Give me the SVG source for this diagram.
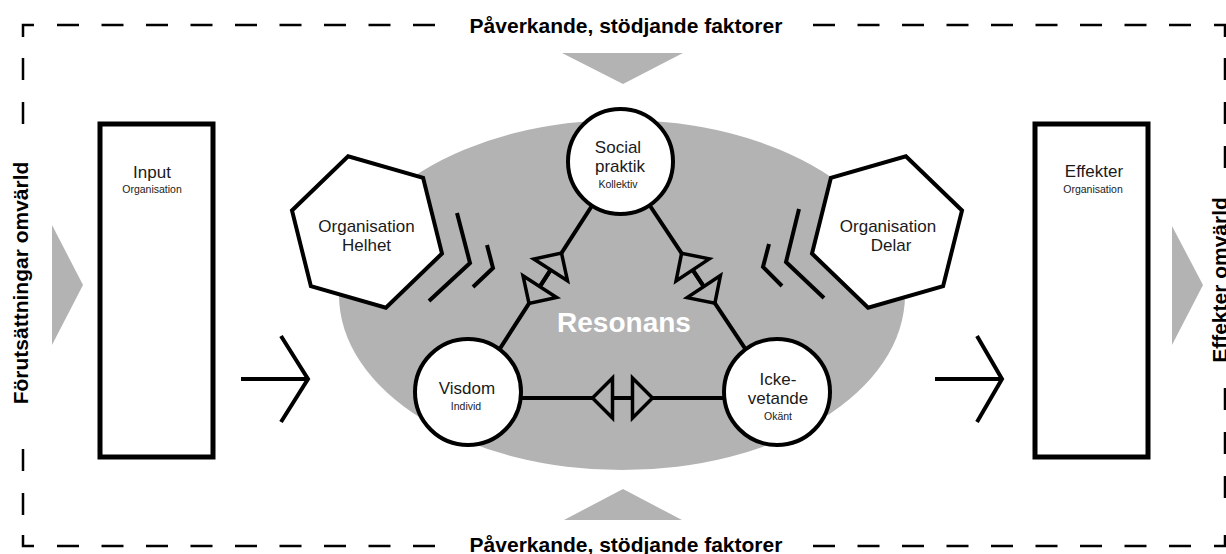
<svg xmlns="http://www.w3.org/2000/svg" width="1226" height="554" viewBox="0 0 1226 554">
<style>
.frame{fill:none;stroke:#000;stroke-width:2.5}
.title{font-family:"Liberation Sans",Arial,sans-serif;font-weight:bold;font-size:21px;fill:#000;text-anchor:middle}
.lbl{font-family:"Liberation Sans",Arial,sans-serif;font-size:17px;fill:#1a1a1a;text-anchor:middle}
.sub{font-family:"Liberation Sans",Arial,sans-serif;font-size:10.5px;fill:#1a1a1a;text-anchor:middle}
.box{fill:#fff;stroke:#000;stroke-width:5}
.hex{fill:#fff;stroke:#000;stroke-width:4;stroke-linejoin:miter}
.circ{fill:#fff;stroke:#000;stroke-width:4}
.gray{fill:#b3b3b3}
.ln{fill:none;stroke:#000;stroke-width:4;stroke-linecap:butt;stroke-linejoin:miter}
.tri{fill:#b3b3b3;stroke:#000;stroke-width:3.5;stroke-linejoin:miter}
</style>
<defs>
<g id="dbl">
<path class="tri" d="M-10,-20 L-10,20 L-30,0 Z"/>
<path class="tri" d="M10,-20 L10,20 L30,0 Z"/>
<path class="ln" d="M-10,0 H10"/>
</g>
</defs>
<g id="frame">
<path class="frame" d="M23,37 V25 H34 M57,25 h22 M101.5,25 h22 M146,25 h22 M190.5,25 h22 M235,25 h22 M279.5,25 h22 M324,25 h22 M368.5,25 h22 M413,25 h22 M813,25 h22 M857.5,25 h22 M902,25 h22 M946.5,25 h22 M991,25 h22 M1035.5,25 h22 M1080,25 h22 M1124.5,25 h22 M1169,25 h22 M1214,25 H1225 V37 M1225,58 v22 M1225,102 v22 M1225,146 v22 M1225,388 v22 M1225,432 v22 M1225,476 v22 M1225,535 V546 H1214 M23,58 v22 M23,102 v22 M23,449 v22 M23,493 v22 M23,535 V546 H34 M57,546 h22 M101.5,546 h22 M146,546 h22 M190.5,546 h22 M235,546 h22 M279.5,546 h22 M324,546 h22 M368.5,546 h22 M413,546 h22 M813,546 h22 M857.5,546 h22 M902,546 h22 M946.5,546 h22 M991,546 h22 M1035.5,546 h22 M1080,546 h22 M1124.5,546 h22 M1169,546 h22"/>
<text class="title" x="626" y="33">Påverkande, stödjande faktorer</text>
<text class="title" x="626" y="552">Påverkande, stödjande faktorer</text>
<text class="title" transform="translate(28,283) rotate(-90)">Förutsättningar omvärld</text>
<text class="title" transform="translate(1227,280) rotate(-90)">Effekter omvärld</text>
<path class="gray" d="M562,53 H683 L623,84 Z"/>
<path class="gray" d="M564,520 H682 L623,489 Z"/>
<path class="gray" d="M52,225 V345 L83,285 Z"/>
<path class="gray" d="M1172,226 V345 L1203,285 Z"/>
</g>
<g id="resonans">
<ellipse class="gray" cx="622" cy="295" rx="283" ry="175"/>
<text x="624" y="332" font-family="Liberation Sans, Arial, sans-serif" font-weight="bold" font-size="28" fill="#fff" text-anchor="middle">Resonans</text>
</g>
<g id="input">
<rect class="box" x="100" y="124" width="113" height="333"/>
<text class="lbl" x="152" y="178">Input</text>
<text class="sub" x="152" y="193">Organisation</text>
</g>
<g id="effekter">
<rect class="box" x="1035" y="124" width="113" height="333"/>
<text class="lbl" x="1094" y="177">Effekter</text>
<text class="sub" x="1093" y="193">Organisation</text>
</g>
<g id="org-helhet">
<path class="hex" d="M442,253.5 L385.9,307.7 L310.9,286.2 L292,210.5 L348.1,156.3 L423.1,177.8 Z"/>
<text class="lbl" x="366.5" y="232">Organisation</text>
<text class="lbl" x="366.5" y="251">Helhet</text>
</g>
<g id="org-delar">
<path class="hex" d="M962,210.5 L943.1,286.2 L868.1,307.7 L812,253.5 L830.9,177.8 L905.9,156.3 Z"/>
<text class="lbl" x="888" y="232">Organisation</text>
<text class="lbl" x="891" y="251">Delar</text>
</g>
<g id="connectors">
<path class="ln" d="M241,379 H309 M281,336 L308,379 L281,422"/>
<path class="ln" d="M935,379 H1003 M977,336 L1002,379 L977,422"/>
<path class="ln" d="M457,213 L470,263 L429,301 M487,245 L493,268 L473,287"/>
<path class="ln" d="M799,209 L786,262 L824,298 M769,244 L763,267 L782,286"/>
<path class="ln" d="M620.5,161.5 L470,395 M620.5,161.5 L776,395 M468,398 H777"/>
<use href="#dbl" transform="translate(545.25,278.25) rotate(122.8)"/>
<use href="#dbl" transform="translate(698.25,278.25) rotate(56.3)"/>
<use href="#dbl" transform="translate(622.5,398)"/>
</g>
<g id="social">
<circle class="circ" cx="620.5" cy="161.5" r="52.5"/>
<text class="lbl" x="618" y="153">Social</text>
<text class="lbl" x="620" y="172">praktik</text>
<text class="sub" x="618" y="188">Kollektiv</text>
</g>
<g id="visdom">
<circle class="circ" cx="468" cy="392" r="53"/>
<text class="lbl" x="467" y="394">Visdom</text>
<text class="sub" x="466" y="410">Individ</text>
</g>
<g id="icke">
<circle class="circ" cx="777" cy="392" r="53"/>
<text class="lbl" x="778" y="385">Icke-</text>
<text class="lbl" x="778" y="404">vetande</text>
<text class="sub" x="778" y="420">Okänt</text>
</g>
</svg>
